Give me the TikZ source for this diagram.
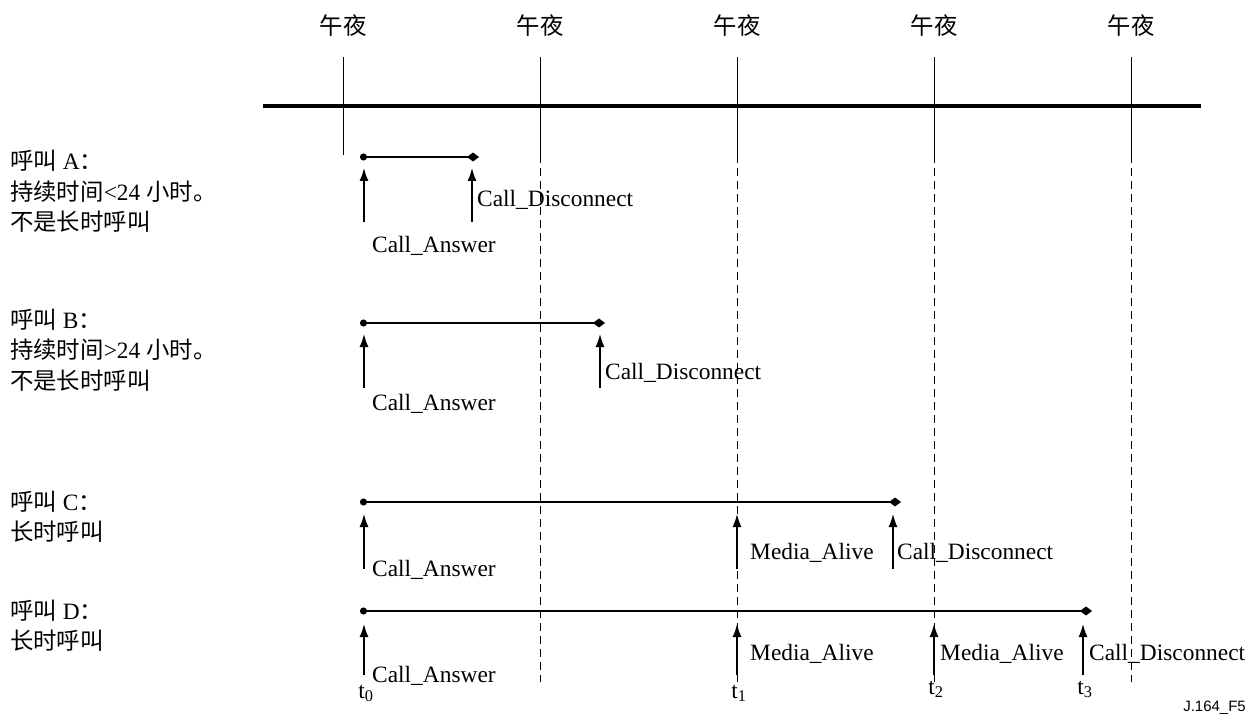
\documentclass[tikz,border=0pt]{standalone}
\usepackage{fontspec}
\setmainfont{Liberation Serif}
\newfontfamily\cjk{Noto Sans CJK SC}
\newfontfamily\lsans{Liberation Sans}
\usetikzlibrary{arrows.meta}
\begin{document}
\begin{tikzpicture}[x=1pt,y=-1pt,
  txt/.style={inner sep=0pt,font=\fontsize{23.4}{28}\selectfont},
  lbl/.style={txt,anchor=west},
  side/.style={txt,anchor=base west},
  mid/.style={line width=0.9pt},
  middash/.style={line width=0.9pt,dash pattern=on 8pt off 5pt},
  axis/.style={line width=3.5pt},
  callline/.style={line width=1.6pt,{Circle[length=7pt]}-{Diamond[length=12pt,width=9pt]}},
  evarrow/.style={line width=1.5pt,-{Latex[length=13pt,width=9pt]}}
]
\useasboundingbox (0,0) rectangle (1254,722);
% midnight labels and lines
\foreach \i/\x in {1/343,2/540,3/737,4/934,5/1131}{
  \node[txt] (m\i) at (\x,26) {\cjk 午夜};
  \coordinate (mt\i) at (\x,57);
  \coordinate (mb\i) at (\x,155);
  \coordinate (md\i) at (\x,682);
  \draw[mid] (mt\i) -- (mb\i);
}
\foreach \i in {2,3,4,5}{ \draw[middash] (mb\i) -- (md\i); }
\coordinate (axL) at (263,106);
\coordinate (axR) at (1201,106);
\draw[axis] (axL) -- (axR);

% left labels
\node[side] (a1) at (10,170) {{\cjk 呼叫} A{\cjk ：}};
\node[side] (a2) at (10,201) {{\cjk 持续时间}<24 {\cjk 小时。}};
\node[side] (a3) at (10,231) {\cjk 不是长时呼叫};
\node[side] (b1) at (10,329) {{\cjk 呼叫} B{\cjk ：}};
\node[side] (b2) at (10,359) {{\cjk 持续时间}>24 {\cjk 小时。}};
\node[side] (b3) at (10,389) {\cjk 不是长时呼叫};
\node[side] (c1) at (10,510) {{\cjk 呼叫} C{\cjk ：}};
\node[side] (c2) at (10,540) {\cjk 长时呼叫};
\node[side] (d1) at (10,619) {{\cjk 呼叫} D{\cjk ：}};
\node[side] (d2) at (10,649) {\cjk 长时呼叫};

% Call A
\coordinate (As) at (360,157); \coordinate (Ae) at (479,157);
\draw[callline] (As) -- (Ae);
\coordinate (Aa0) at (364,222); \coordinate (Aa1) at (364,168);
\coordinate (Ad0) at (472,222); \coordinate (Ad1) at (472,168);
\draw[evarrow] (Aa0) -- (Aa1);
\draw[evarrow] (Ad0) -- (Ad1);
\node[lbl] (Adl) at (477,200) {Call\_Disconnect};
\node[lbl] (Aal) at (372,246) {Call\_Answer};

% Call B
\coordinate (Bs) at (360,323); \coordinate (Be) at (605,323);
\draw[callline] (Bs) -- (Be);
\coordinate (Ba0) at (364,388); \coordinate (Ba1) at (364,334);
\coordinate (Bd0) at (600,388); \coordinate (Bd1) at (600,334);
\draw[evarrow] (Ba0) -- (Ba1);
\draw[evarrow] (Bd0) -- (Bd1);
\node[lbl] (Bdl) at (605,373) {Call\_Disconnect};
\node[lbl] (Bal) at (372,404) {Call\_Answer};

% Call C
\coordinate (Cs) at (360,502); \coordinate (Ce) at (901,502);
\draw[callline] (Cs) -- (Ce);
\coordinate (Ca0) at (364,569); \coordinate (Ca1) at (364,514);
\coordinate (Cm0) at (737,569); \coordinate (Cm1) at (737,514);
\coordinate (Cd0) at (893,569); \coordinate (Cd1) at (893,514);
\draw[evarrow] (Ca0) -- (Ca1);
\draw[evarrow] (Cm0) -- (Cm1);
\draw[evarrow] (Cd0) -- (Cd1);
\node[lbl] (Cal) at (372,570) {Call\_Answer};
\node[lbl] (Cml) at (750,553) {Media\_Alive};
\node[lbl] (Cdl) at (897,553) {Call\_Disconnect};

% Call D
\coordinate (Ds) at (360,611); \coordinate (De) at (1092,611);
\draw[callline] (Ds) -- (De);
\coordinate (Da0) at (364,675); \coordinate (Da1) at (364,624);
\coordinate (Dm0) at (737,675); \coordinate (Dm1) at (737,624);
\coordinate (Dn0) at (934,675); \coordinate (Dn1) at (934,624);
\coordinate (Dd0) at (1083,675); \coordinate (Dd1) at (1083,624);
\draw[evarrow] (Da0) -- (Da1);
\draw[evarrow] (Dm0) -- (Dm1);
\draw[evarrow] (Dn0) -- (Dn1);
\draw[evarrow] (Dd0) -- (Dd1);
\node[lbl] (Dal) at (372,676) {Call\_Answer};
\node[lbl] (Dml) at (750,654) {Media\_Alive};
\node[lbl] (Dnl) at (940,654) {Media\_Alive};
\node[lbl] (Ddl) at (1089,654) {Call\_Disconnect};

% time labels
\node[txt,anchor=base] (t0) at (366,698) {t\textsubscript{0}};
\node[txt,anchor=base] (t1) at (739,698) {t\textsubscript{1}};
\node[txt,anchor=base] (t2) at (936,694) {t\textsubscript{2}};
\node[txt,anchor=base] (t3) at (1085,694) {t\textsubscript{3}};

\node[inner sep=0pt,anchor=base east,font=\lsans\fontsize{15}{18}\selectfont] (fig) at (1246,711) {J.164\_F5};
\end{tikzpicture}
\end{document}
